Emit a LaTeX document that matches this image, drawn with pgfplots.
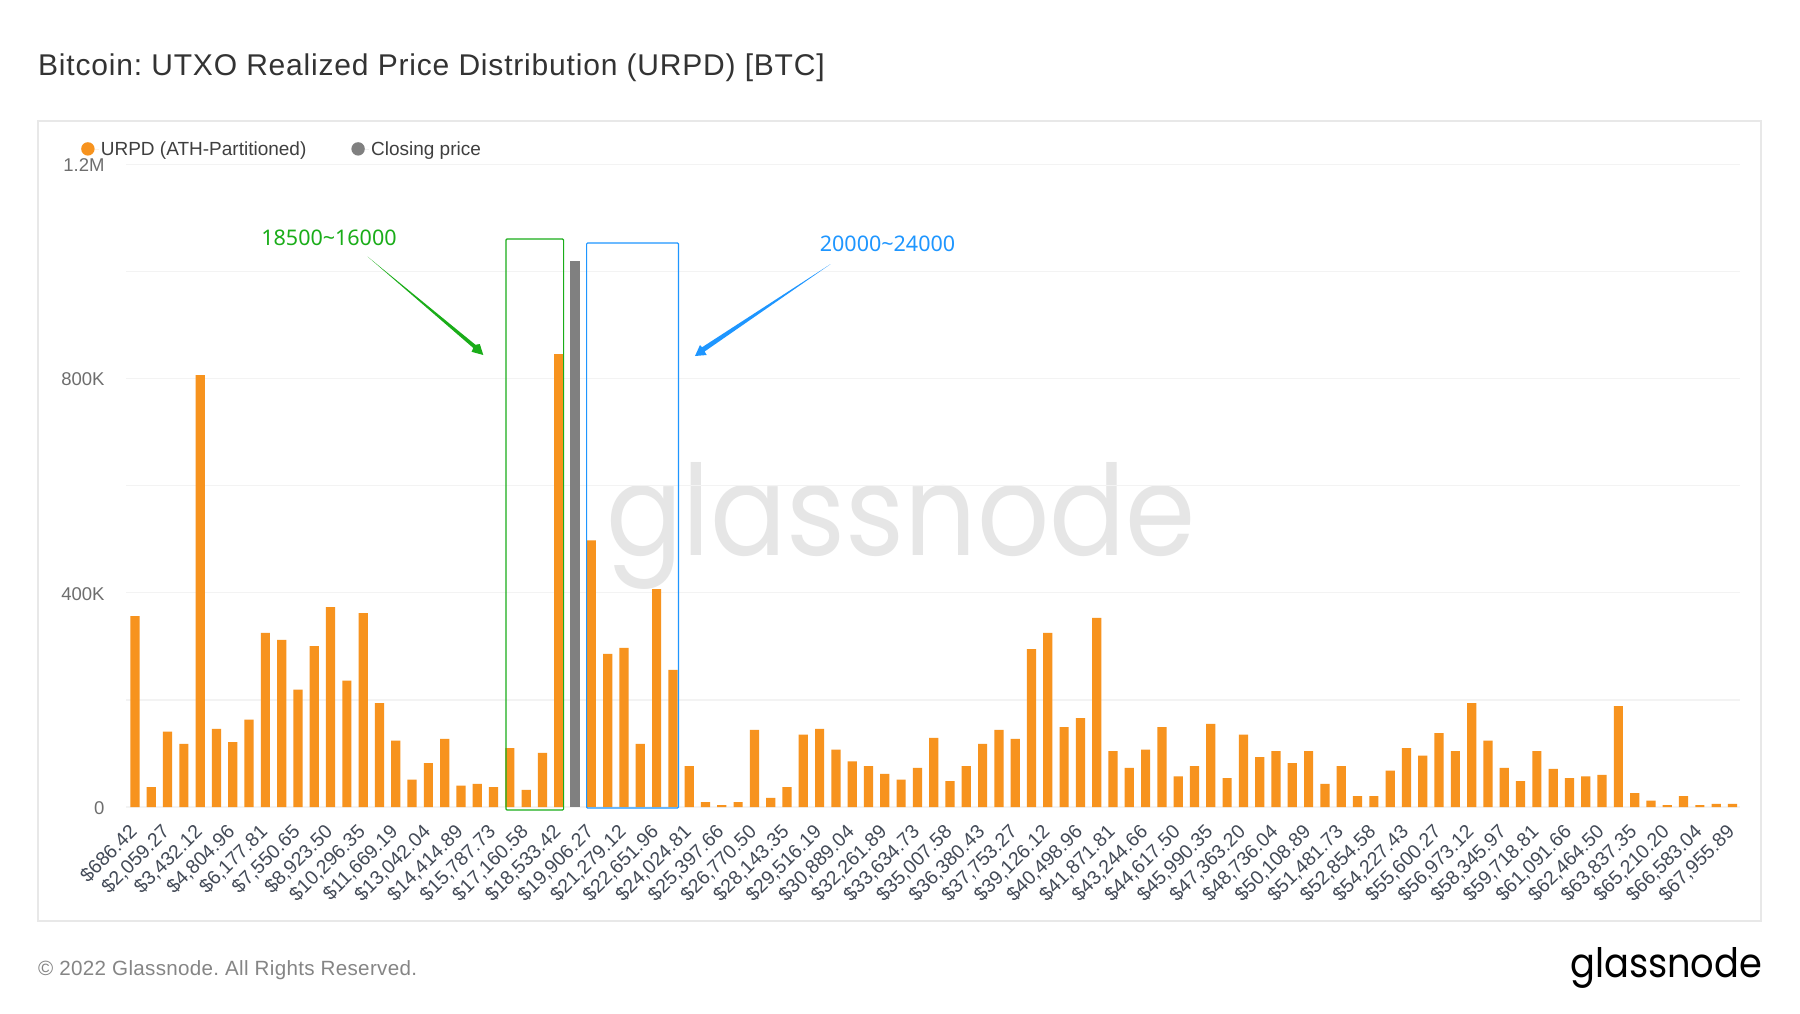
\documentclass[border=0pt]{standalone}
\usepackage{fontspec}
\usepackage{graphicx}
\usepackage{pgfplots}
\pgfplotsset{compat=1.18}
\setmainfont{Liberation Sans}
\newfontfamily\titlefont[LetterSpace=2.7]{Liberation Sans}
\newfontfamily\footfont[LetterSpace=1.5]{Liberation Sans}
\newfontfamily\logofont{Poppins}
\newfontfamily\notefont{Noto Sans}
\definecolor{btc}{HTML}{F7931E}
\definecolor{closep}{HTML}{808080}
\definecolor{gridc}{HTML}{F3F3F3}
\definecolor{panelc}{HTML}{E8E8E8}
\definecolor{wm}{HTML}{E6E6E6}
\definecolor{titlec}{HTML}{333333}
\definecolor{legc}{HTML}{3F3F3F}
\definecolor{ytc}{HTML}{6E6E6E}
\definecolor{xtc}{HTML}{434A57}
\definecolor{footc}{HTML}{858585}
\definecolor{gbox}{HTML}{1AAD19}
\definecolor{bbox}{HTML}{1E96FF}
\newcommand{\fs}[1]{\fontsize{#1pt}{#1pt}\selectfont}
\frenchspacing
\begin{document}
\begin{tikzpicture}
\path[use as bounding box,fill=white] (0pt,0pt) rectangle (1800pt,-1013pt);
\begin{scope}[x=1pt,y=-1pt]
\draw[panelc,line width=1.6pt] (38,121) rectangle (1761,921);
\node[anchor=base west,inner sep=0pt,text=titlec] at (38,75) {\titlefont\fs{30}Bitcoin: UTXO Realized Price Distribution (URPD) [BTC]};
\node[anchor=base west,inner sep=0pt,text=footc] at (38,975) {\footfont\fs{20.6}© 2022 Glassnode. All Rights Reserved.};
\node[anchor=base west,inner sep=0pt,text=black] at (1570,977) {\resizebox{192pt}{30pt}{\logofont glassnode}};
\node[anchor=base west,inner sep=0pt,text=wm] at (606,555) {\resizebox{589pt}{93pt}{\logofont glassnode}};
\end{scope}
\begin{axis}[
  at={(126pt,-807pt)},anchor=south west,
  scale only axis,width=1614pt,height=642.7pt,
  xmin=-0.55,xmax=98.46,ymin=0,ymax=1200000,
  axis line style={draw=none},
  major tick length=0pt,
  scaled y ticks=false,
  ymajorgrids,
  grid style={gridc,line width=1.4pt},
  ytick={0,200000,400000,600000,800000,1000000,1200000},
  yticklabels={0,,400K,,800K,,1.2M},
  yticklabel style={text=ytc,font=\fs{18.5},xshift=-18pt,yshift=-1pt},
  xtick={0,2,...,98},
  xticklabels={{\$686.42},{\$2,059.27},{\$3,432.12},{\$4,804.96},{\$6,177.81},{\$7,550.65},{\$8,923.50},{\$10,296.35},{\$11,669.19},{\$13,042.04},{\$14,414.89},{\$15,787.73},{\$17,160.58},{\$18,533.42},{\$19,906.27},{\$21,279.12},{\$22,651.96},{\$24,024.81},{\$25,397.66},{\$26,770.50},{\$28,143.35},{\$29,516.19},{\$30,889.04},{\$32,261.89},{\$33,634.73},{\$35,007.58},{\$36,380.43},{\$37,753.27},{\$39,126.12},{\$40,498.96},{\$41,871.81},{\$43,244.66},{\$44,617.50},{\$45,990.35},{\$47,363.20},{\$48,736.04},{\$50,108.89},{\$51,481.73},{\$52,854.58},{\$54,227.43},{\$55,600.27},{\$56,973.12},{\$58,345.97},{\$59,718.81},{\$61,091.66},{\$62,464.50},{\$63,837.35},{\$65,210.20},{\$66,583.04},{\$67,955.89}},
  xticklabel style={text=xtc,font=\fs{19.5},rotate=45,anchor=north east,inner sep=0pt,xshift=-16.2pt,yshift=-6.1pt},
  legend columns=2,
  legend cell align=left,
  legend style={at={(-0.0279,1.0240)},anchor=west,draw=none,fill=none,inner sep=0pt,font=\fs{19}\color{legc},
    /tikz/every even column/.append style={column sep=43pt}},
  legend image code/.code={\path (-6.7pt,0pt) rectangle (11pt,0pt);\fill[#1] (0pt,0pt) circle (6.7pt);},
]
\addplot[ybar,bar shift=0pt,bar width=9.2pt,fill=btc,draw=none] coordinates {
(0,356500)(1,37000)(2,140600)(3,118000)(4,806400)(5,146000)(6,121000)(7,163000)(8,325000)(9,312000)
(10,219000)(11,300500)(12,373000)(13,236000)(14,362000)(15,194000)(16,124000)(17,51000)(18,82000)(19,127000)
(20,40000)(21,43000)(22,37000)(23,110000)(24,32000)(25,101000)(26,845600)(28,498000)(29,286000)
(30,297000)(31,118000)(32,407000)(33,256000)(34,76500)(35,9000)(36,3700)(37,9000)(38,144000)(39,17000)
(40,37000)(41,135000)(42,146000)(43,107000)(44,85000)(45,76500)(46,62000)(47,51000)(48,73000)(49,129000)
(50,48500)(51,76500)(52,118000)(53,144000)(54,127000)(55,295000)(56,325000)(57,149000)(58,166000)(59,353000)
(60,104500)(61,73000)(62,107000)(63,149000)(64,57000)(65,76500)(66,155000)(67,54000)(68,135000)(69,93000)
(70,104500)(71,82000)(72,104500)(73,43000)(74,76500)(75,20500)(76,20500)(77,68000)(78,110000)(79,96000)
(80,138000)(81,104500)(82,194000)(83,124000)(84,73000)(85,48500)(86,104500)(87,71000)(88,54000)(89,57000)
(90,60000)(91,188500)(92,26000)(93,12000)(94,3700)(95,20500)(96,3700)(97,6000)(98,6000)};
\addlegendentry{URPD (ATH-Partitioned)}
\addplot[ybar,bar shift=0pt,bar width=9.2pt,fill=closep,draw=none] coordinates {(27,1019000)};
\addlegendentry{Closing price}
\end{axis}
\begin{scope}[x=1pt,y=-1pt]
\draw[gbox,line width=1.2pt,rounded corners=1pt] (506,239) rectangle (563.6,810);
\draw[bbox,line width=1.2pt,rounded corners=1pt] (586.6,243) rectangle (678.5,808);
\node[anchor=center,inner sep=0pt,text=gbox] at (329,238) {\notefont\fs{21.5}18500\char`~16000};
\node[anchor=center,inner sep=0pt,text=bbox] at (887.5,244) {\notefont\fs{21.5}20000\char`~24000};
\fill[gbox] (367.7,256.7) -- (475.5,344.8) -- (479.8,344) -- (483.3,355) -- (471.6,351.8) -- (473.3,348) -- cycle;
\fill[bbox] (830.7,264) -- (702,347.3) -- (700,345) -- (695,356) -- (706.7,355) -- (704.6,351.5) -- cycle;
\end{scope}
\end{tikzpicture}
\end{document}
